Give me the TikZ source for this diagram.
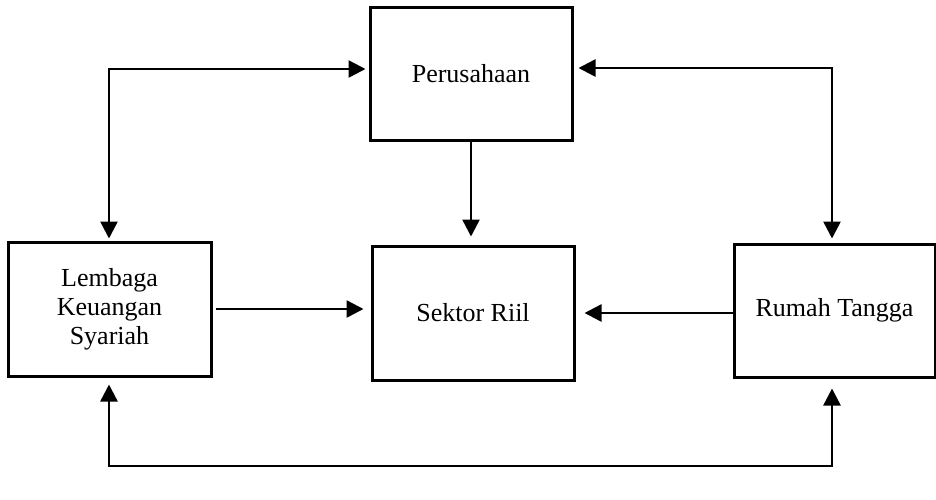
\documentclass[tikz,border=0pt]{standalone}
\usepackage{fontspec}
\setmainfont{Liberation Serif}
\usetikzlibrary{arrows.meta}
\begin{document}
\begin{tikzpicture}[x=1pt,y=-1pt,
  box/.style={draw, line width=3pt, inner sep=0pt, align=center,
    font=\fontsize{26}{29}\selectfont},
  tip/.style={},
  arr/.style={line width=2.5pt, -{Triangle[length=17pt,width=17pt]}},
  darr/.style={line width=2.5pt, {Triangle[length=17pt,width=17pt]}-{Triangle[length=17pt,width=17pt]}}]
\useasboundingbox (0,0) rectangle (936,499);
\node[box, minimum width=202pt, minimum height=133pt] (P) at (471,73.5) {Perusahaan};
\node[box, minimum width=203pt, minimum height=134pt] (L) at (109.5,309) {Lembaga\\Keuangan\\Syariah};
\node[box, minimum width=202pt, minimum height=134pt] (S) at (473,313) {Sektor Riil};
\node[box, minimum width=201pt, minimum height=133pt] (R) at (834.5,310.5) {Rumah Tangga};
\coordinate (tl) at (109,69);
\coordinate (tr) at (832,68);
\coordinate (bl) at (109,466);
\coordinate (br) at (832,466);
\draw[darr, shorten <=2pt, shorten >=3pt] (tl |- L.north) -- (tl) -- (tl -| P.west);
\draw[darr, shorten <=5pt, shorten >=4pt] (tr -| P.east) -- (tr) -- (tr |- R.north);
\draw[darr, shorten <=7pt, shorten >=10pt] (bl |- L.south) -- (bl) -- (br) -- (br |- R.south);
\draw[arr, shorten >=8pt] (P.south) -- (P.south |- S.north);
\draw[arr, shorten <=3pt, shorten >=7pt] (L.east) -- (L.east -| S.west);
\draw[arr, shorten >=9pt] (R.west |- S.east) -- (S.east);
\end{tikzpicture}
\end{document}
